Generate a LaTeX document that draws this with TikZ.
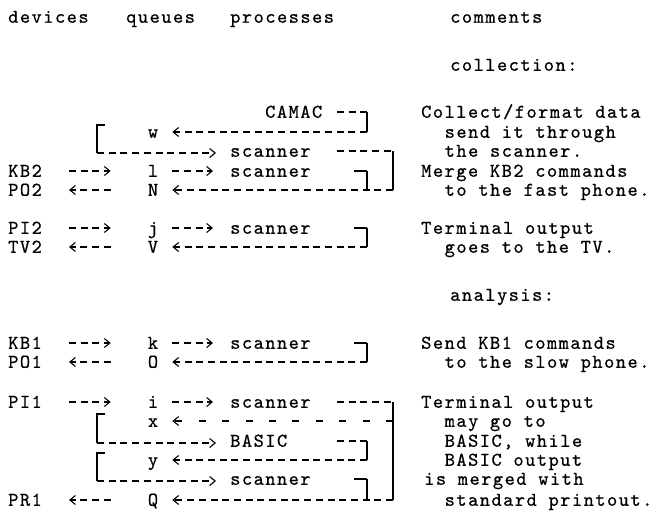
\documentclass[tikz,border=0pt]{standalone}
\usepackage{fontspec}
\newfontfamily\tw{lmmono10-regular.otf}[LetterSpace=7.5,FakeBold=0.6]
\usetikzlibrary{arrows.meta}
\begin{document}
\begin{tikzpicture}[x=1pt,y=-1pt,
  txt/.style={anchor=west,inner sep=0pt,text height=11.5pt,text depth=0pt,font=\tw\fontsize{19.5}{21}\selectfont},
  qn/.style={txt,anchor=center},
  dsh/.style={line width=1.1pt,dash pattern=on 7pt off 4.7pt},
  sparse/.style={line width=1.1pt,dash pattern=on 7pt off 16.4pt},
  vbar/.style={line width=1.1pt},
  arr/.style={-{Straight Barb[length=5.5pt,width=9pt,line width=1.1pt]}},
  devin/.style={dsh,arr,shorten <=27pt,shorten >=37pt},
  devout/.style={dsh,arr,shorten <=37pt,shorten >=27pt},
  qp/.style={dsh,arr,shorten <=14pt,shorten >=17pt},
  ret/.style={dsh,arr,shorten >=14pt}]
\useasboundingbox (0,0) rectangle (659,514);
% headers
\node[txt] (hdev) at (8,17) {devices};
\node[txt] (hque) at (126,17) {queues};
\node[txt] (hpro) at (230,17) {processes};
\node[txt] (hcom) at (450,17) {comments};
\node[txt] (hcol) at (450,65) {collection:};
\node[txt] (hana) at (450,295) {analysis:};
% collection
\node[txt] (camac) at (265,112) {CAMAC};
\node[qn] (w) at (153,132) {w};
\node[txt] (s1) at (230,151) {scanner};
\node[txt] (kb2) at (8,171) {KB2};
\node[qn] (l) at (153,171) {l};
\node[txt] (s2) at (230,171) {scanner};
\node[txt] (po2) at (8,190) {PO2};
\node[qn] (N) at (153,190) {N};
\node[txt] (pi2) at (8,228) {PI2};
\node[qn] (j) at (153,228) {j};
\node[txt] (s3) at (230,228) {scanner};
\node[txt] (tv2) at (8,247) {TV2};
\node[qn] (V) at (153,247) {V};
% analysis
\node[txt] (kb1) at (8,343) {KB1};
\node[qn] (k) at (153,343) {k};
\node[txt] (s4) at (230,343) {scanner};
\node[txt] (po1) at (8,362) {PO1};
\node[qn] (O) at (153,362) {O};
\node[txt] (pi1) at (8,402) {PI1};
\node[qn] (i) at (153,402) {i};
\node[txt] (s5) at (230,402) {scanner};
\node[qn] (x) at (153,421) {x};
\node[txt] (basic) at (230,441) {BASIC};
\node[qn] (y) at (153,460) {y};
\node[txt] (s6) at (230,479) {scanner};
\node[txt] (pr1) at (8,500) {PR1};
\node[qn] (Q) at (153,500) {Q};
% comments
\node[txt] (c1) at (421,112) {Collect/format data};
\node[txt] (c2) at (444.5,132) {send it through};
\node[txt] (c3) at (444.5,151) {the scanner.};
\node[txt] (c4) at (421,171) {Merge KB2 commands};
\node[txt] (c5) at (444.5,190) {to the fast phone.};
\node[txt] (c6) at (421,228) {Terminal output};
\node[txt] (c7) at (444.5,247) {goes to the TV.};
\node[txt] (c8) at (421,343) {Send KB1 commands};
\node[txt] (c9) at (444.5,362) {to the slow phone.};
\node[txt] (c10) at (421,402) {Terminal output};
\node[txt] (c11) at (444.5,421) {may go to};
\node[txt] (c12) at (444.5,441) {BASIC, while};
\node[txt] (c13) at (444.5,460) {BASIC output};
\node[txt] (c14) at (424,479) {is merged with};
\node[txt] (c15) at (444.5,500) {standard printout.};
% bracket corners
\coordinate (cA) at (367,112); \coordinate (cAb) at (367,132);
\coordinate (lb1t) at (97,125); \coordinate (lb1b) at (97,153);
\coordinate (o1t) at (393,151); \coordinate (o1b) at (393,190);
\coordinate (i1t) at (367,171); \coordinate (i1b) at (367,190);
\coordinate (i2t) at (367,228); \coordinate (i2b) at (367,247);
\coordinate (i3t) at (367,343); \coordinate (i3b) at (367,362);
\coordinate (o2t) at (393,402); \coordinate (o2m) at (393,421); \coordinate (o2b) at (393,500);
\coordinate (lb2t) at (97,414); \coordinate (lb2b) at (97,443);
\coordinate (i4t) at (367,441); \coordinate (i4b) at (367,460);
\coordinate (lb3t) at (97,453); \coordinate (lb3b) at (97,481);
\coordinate (i5t) at (367,479); \coordinate (i5b) at (367,500);
% collection connectors
\draw[dsh,shorten <=14.5pt] (camac.east) -- (cA);
\draw[vbar] (cA) -- (cAb);
\draw[ret] (cAb) -- (w.east);
\draw[vbar] ([xshift=8pt]lb1t) -- (lb1t) -- (lb1b);
\draw[dsh,arr,shorten >=14pt] (lb1b) -- (lb1b -| s1.west);
\draw[dsh,shorten <=26pt] (s1.east) -- (o1t);
\draw[vbar] (o1t) -- (o1b);
\draw[ret] (o1b) -- (N.east);
\draw[devin] (kb2.east) -- (l.west);
\draw[qp] (l.east) -- (s2.west);
\draw[vbar,shorten <=43pt] (s2.east) -- (i1t);
\draw[vbar] (i1t) -- (i1b);
\draw[devout] (N.west) -- (po2.east);
\draw[devin] (pi2.east) -- (j.west);
\draw[qp] (j.east) -- (s3.west);
\draw[vbar,shorten <=43pt] (s3.east) -- (i2t);
\draw[vbar] (i2t) -- (i2b);
\draw[ret] (i2b) -- (V.east);
\draw[devout] (V.west) -- (tv2.east);
% analysis connectors
\draw[devin] (kb1.east) -- (k.west);
\draw[qp] (k.east) -- (s4.west);
\draw[vbar,shorten <=43pt] (s4.east) -- (i3t);
\draw[vbar] (i3t) -- (i3b);
\draw[ret] (i3b) -- (O.east);
\draw[devout] (O.west) -- (po1.east);
\draw[devin] (pi1.east) -- (i.west);
\draw[qp] (i.east) -- (s5.west);
\draw[dsh,shorten <=26pt] (s5.east) -- (o2t);
\draw[vbar] (o2t) -- (o2b);
\draw[sparse,arr,shorten >=14pt] (o2m) -- (x.east);
\draw[vbar] ([xshift=8pt]lb2t) -- (lb2t) -- (lb2b);
\draw[dsh,arr,shorten >=14pt] (lb2b) -- (lb2b -| basic.west);
\draw[dsh,shorten <=49.5pt] (basic.east) -- (i4t);
\draw[vbar] (i4t) -- (i4b);
\draw[ret] (i4b) -- (y.east);
\draw[vbar] ([xshift=8pt]lb3t) -- (lb3t) -- (lb3b);
\draw[dsh,arr,shorten >=14pt] (lb3b) -- (lb3b -| s6.west);
\draw[vbar,shorten <=43pt] (s6.east) -- (i5t);
\draw[vbar] (i5t) -- (i5b);
\draw[ret] (o2b) -- (Q.east);
\draw[devout] (Q.west) -- (pr1.east);
\end{tikzpicture}
\end{document}
